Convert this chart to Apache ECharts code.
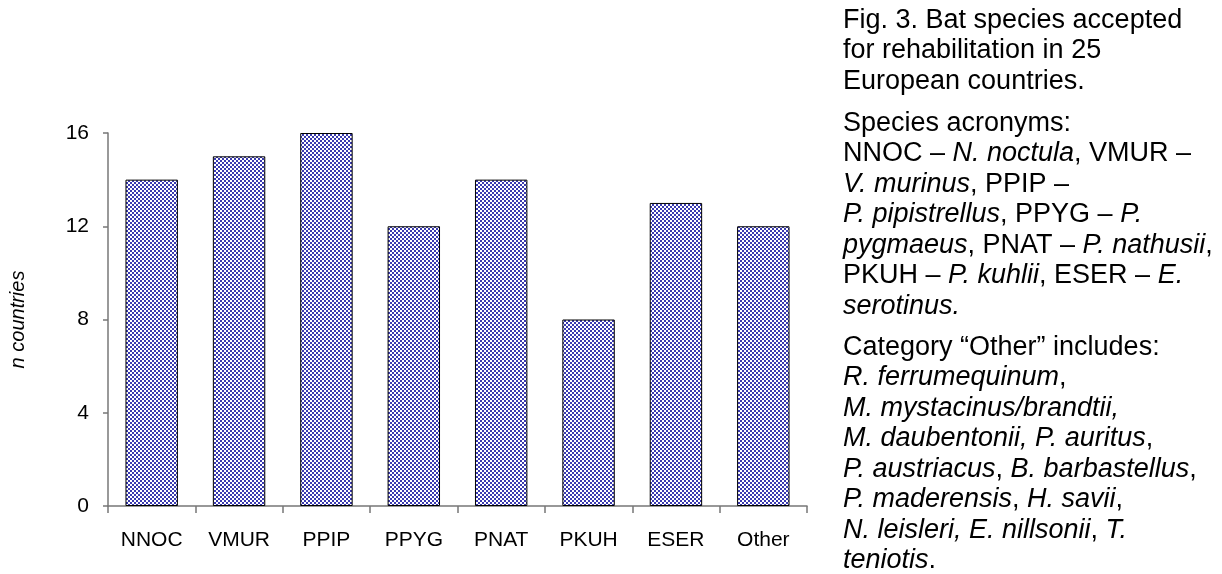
<!DOCTYPE html>
<html>
<head>
<meta charset="utf-8">
<script src="https://cdn.jsdelivr.net/npm/echarts@6/dist/echarts.min.js"></script>
<style>
  html, body { margin: 0; padding: 0; background: #fff; }
  #chart { width: 1222px; height: 574px; }
</style>
</head>
<body>
<div id="chart"></div>
<script>
var categories = ['NNOC', 'VMUR', 'PPIP', 'PPYG', 'PNAT', 'PKUH', 'ESER', 'Other'];
var countries = [14, 15, 16, 12, 14, 8, 13, 12];
var yTicks = [0, 4, 8, 12, 16];

var FONT = '"Liberation Sans", Arial, sans-serif';
var TXT_SIZE = 27;
var TXT_LH = 30.5;

// checkerboard fill like the original bars
function makePattern() {
  var c = document.createElement('canvas');
  c.width = 4;
  c.height = 4;
  var ctx = c.getContext('2d');
  ctx.fillStyle = '#ffffff';
  ctx.fillRect(0, 0, 4, 4);
  ctx.fillStyle = '#3a3ab0';
  ctx.fillRect(0, 0, 2, 2);
  ctx.fillRect(2, 2, 2, 2);
  return c;
}

var rich = {
  i: { fontSize: TXT_SIZE, fontFamily: FONT, lineHeight: TXT_LH, color: '#000', fontStyle: 'italic' }
};

function para(lines, top) {
  return {
    type: 'text',
    left: 843,
    top: top,
    style: {
      text: lines.join('\n'),
      rich: rich,
      fontSize: TXT_SIZE,
      fontFamily: FONT,
      lineHeight: TXT_LH,
      fill: '#000'
    }
  };
}

var chart = echarts.init(document.getElementById('chart'));
var option = {
  backgroundColor: '#fff',
  animation: false,
  grid: { left: 103, right: 415, top: 133, bottom: 68 },
  xAxis: {
    type: 'category',
    data: categories,
    axisLine: { lineStyle: { color: '#777', width: 1.5 } },
    axisTick: { show: true, length: 7, lineStyle: { color: '#777', width: 1.5 } },
    axisLabel: { color: '#000', fontSize: 21, fontFamily: FONT, margin: 24 }
  },
  yAxis: {
    type: 'value',
    min: yTicks[0],
    max: yTicks[yTicks.length - 1],
    interval: 4,
    name: 'n countries',
    nameLocation: 'middle',
    nameGap: 80,
    nameTextStyle: { color: '#000', fontSize: 20, fontFamily: FONT, fontStyle: 'italic' },
    axisLine: { show: true, lineStyle: { color: '#777', width: 1.5 } },
    axisTick: { show: true, length: 5, lineStyle: { color: '#777', width: 1.5 } },
    axisLabel: { color: '#000', fontSize: 21, fontFamily: FONT, margin: 19 },
    splitLine: { show: false }
  },
  series: [
    {
      type: 'bar',
      data: countries,
      barCategoryGap: '40%',
      itemStyle: {
        color: { image: makePattern(), repeat: 'repeat' },
        borderColor: '#000',
        borderWidth: 1
      }
    }
  ],
  graphic: [
    para([
      'Fig. 3. Bat species accepted',
      'for rehabilitation in 25',
      'European countries.'
    ], 5),
    para([
      'Species acronyms:',
      'NNOC – {i|N. noctula}, VMUR –',
      '{i|V. murinus}, PPIP –',
      '{i|P. pipistrellus}, PPYG – {i|P.}',
      '{i|pygmaeus}, PNAT – {i|P. nathusii},',
      'PKUH – {i|P. kuhlii}, ESER – {i|E.}',
      '{i|serotinus.}'
    ], 108),
    para([
      'Category “Other” includes:',
      '{i|R. ferrumequinum},',
      '{i|M. mystacinus/brandtii,}',
      '{i|M. daubentonii, P. auritus},',
      '{i|P. austriacus}, {i|B. barbastellus},',
      '{i|P. maderensis}, {i|H. savii},',
      '{i|N. leisleri, E. nillsonii}, {i|T.}',
      '{i|teniotis}.'
    ], 332)
  ]
};
chart.setOption(option);
</script>
</body>
</html>
